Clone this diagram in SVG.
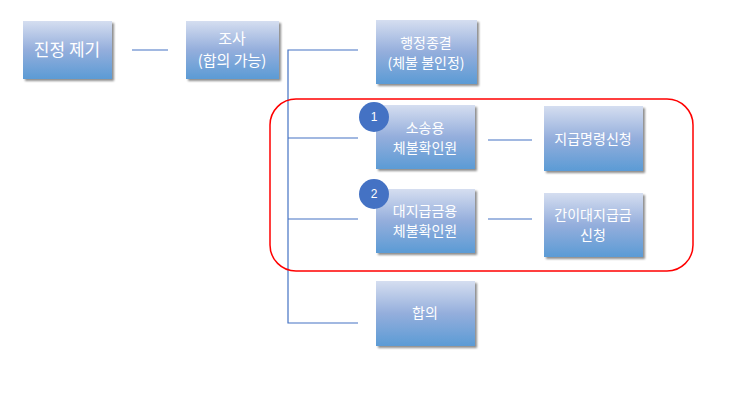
<svg xmlns="http://www.w3.org/2000/svg" width="743" height="418" viewBox="0 0 743 418">
<defs>
<linearGradient id="g" x1="0" y1="0" x2="0" y2="1">
<stop offset="0" stop-color="#d5def0"/>
<stop offset="0.5" stop-color="#94aedc"/>
<stop offset="1" stop-color="#5b9bd5"/>
</linearGradient>
<filter id="sh" x="-10%" y="-10%" width="130%" height="130%">
<feGaussianBlur in="SourceAlpha" stdDeviation="1.2"/>
<feOffset dx="2" dy="2" result="b"/>
<feComponentTransfer><feFuncA type="linear" slope="0.45"/></feComponentTransfer>
<feMerge><feMergeNode/><feMergeNode in="SourceGraphic"/></feMerge>
</filter>
</defs>
<style>
.box{fill:url(#g);filter:url(#sh)}
.t{font-family:"Noto Sans CJK KR","Noto Sans",sans-serif;fill:#fff;font-size:14px;text-anchor:middle}
.c{stroke:#4472c4;stroke-width:1.2;fill:none}
.n{fill:#4472c4}
.nt{font-family:"Liberation Sans",sans-serif;fill:#fff;font-size:12px;text-anchor:middle}
</style>
<rect x="0" y="0" width="743" height="418" fill="#fff"/>
<g id="connectors">
<line class="c" x1="132" y1="50" x2="168" y2="50"/>
<polyline class="c" points="358,50 288,50 288,323 358,323"/>
<line class="c" x1="288" y1="138" x2="358" y2="138"/>
<line class="c" x1="288" y1="219" x2="358" y2="219"/>
<line class="c" x1="488" y1="140" x2="532" y2="140"/>
<line class="c" x1="488" y1="219" x2="532" y2="219"/>
</g>
<g id="n1"><rect class="box" x="23" y="21" width="89" height="58"/><text class="t" x="67" y="56" style="font-size:17px">진정 제기</text></g>
<g id="n2"><rect class="box" x="186" y="21" width="93" height="58"/><text class="t" x="232" y="44" style="font-size:15px">조사</text><text class="t" x="232" y="66" style="font-size:15px">(합의 가능)</text></g>
<g id="n3"><rect class="box" x="376" y="20" width="101" height="64"/><text class="t" x="426" y="48">행정종결</text><text class="t" x="426" y="68">(체불 불인정)</text></g>
<g id="n4"><rect class="box" x="376" y="105" width="99" height="64"/><text class="t" x="425" y="133">소송용</text><text class="t" x="425" y="153">체불확인원</text></g>
<g id="n5"><rect class="box" x="544" y="106" width="99" height="65"/><text class="t" x="593" y="144">지급명령신청</text></g>
<g id="n6"><rect class="box" x="376" y="189" width="99" height="64"/><text class="t" x="425" y="216">대지급금용</text><text class="t" x="425" y="236">체불확인원</text></g>
<g id="n7"><rect class="box" x="544" y="193" width="99" height="64"/><text class="t" x="593" y="220">간이대지급금</text><text class="t" x="593" y="240">신청</text></g>
<g id="n8"><rect class="box" x="376" y="281" width="99" height="65"/><text class="t" x="425" y="318">합의</text></g>
<g id="highlight"><rect x="270" y="99" width="423" height="172" rx="26" fill="none" stroke="#ff0000" stroke-width="1.5"/></g>
<g id="badge1"><circle class="n" cx="374" cy="117" r="15"/><text class="nt" x="374" y="121">1</text></g>
<g id="badge2"><circle class="n" cx="374" cy="194" r="15"/><text class="nt" x="374" y="198">2</text></g>
</svg>
